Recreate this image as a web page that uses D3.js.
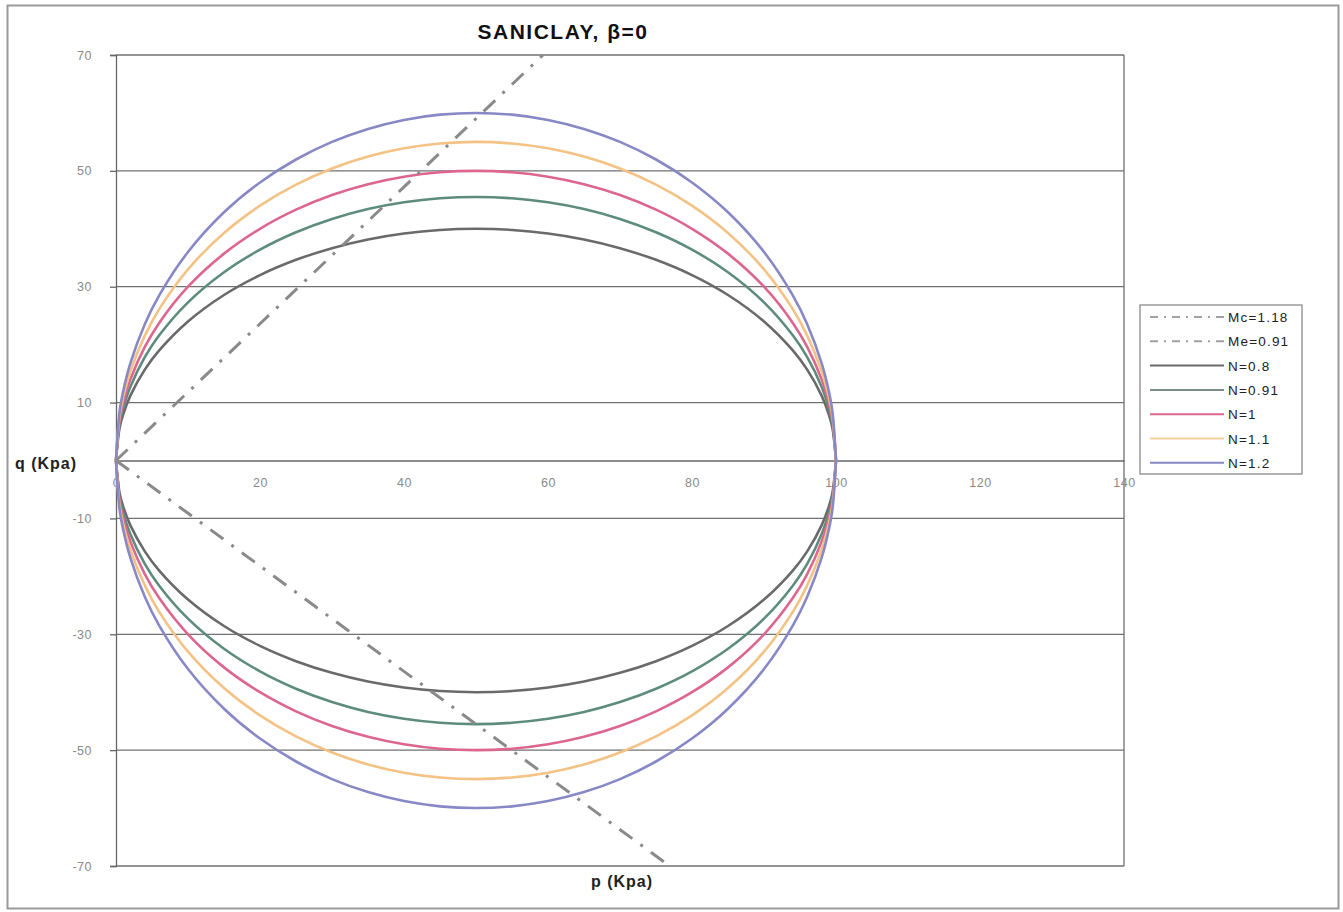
<!DOCTYPE html>
<meta charset="utf-8">
<style>
body { margin: 0; background: #fff; }
text { font-family: Arial, "Liberation Sans", sans-serif; }
.tick-label { font-size: 12.5px; fill: #8a8a8a; letter-spacing: 0.5px; }
.grid { stroke: #707070; stroke-width: 1.3; }
</style>
<svg width="1343" height="912"></svg>
<script src="https://d3js.org/d3.v7.min.js"></script>
<script>
// p values (kPa) shared by all yield curves
var pVals = [0, 0.5, 1, 2, 4, 6, 10, 15, 20, 25, 30, 35, 40, 45, 50,
             55, 60, 65, 70, 75, 80, 85, 90, 94, 96, 98, 99, 99.5, 100];

// q values, upper and lower branch
var qN08U  = [0, 5.64, 7.96, 11.2, 15.68, 19.0, 24.0, 28.57, 32.0, 34.64, 36.66, 38.16, 39.19, 39.8, 40,
              39.8, 39.19, 38.16, 36.66, 34.64, 32.0, 28.57, 24.0, 19.0, 15.68, 11.2, 7.96, 5.64, 0];
var qN08L  = [0, -5.64, -7.96, -11.2, -15.68, -19.0, -24.0, -28.57, -32.0, -34.64, -36.66, -38.16, -39.19, -39.8, -40,
              -39.8, -39.19, -38.16, -36.66, -34.64, -32.0, -28.57, -24.0, -19.0, -15.68, -11.2, -7.96, -5.64, 0];
var qN091U = [0, 6.42, 9.05, 12.74, 17.84, 21.61, 27.3, 32.5, 36.4, 39.4, 41.7, 43.41, 44.58, 45.27, 45.5,
              45.27, 44.58, 43.41, 41.7, 39.4, 36.4, 32.5, 27.3, 21.61, 17.84, 12.74, 9.05, 6.42, 0];
var qN091L = [0, -6.42, -9.05, -12.74, -17.84, -21.61, -27.3, -32.5, -36.4, -39.4, -41.7, -43.41, -44.58, -45.27, -45.5,
              -45.27, -44.58, -43.41, -41.7, -39.4, -36.4, -32.5, -27.3, -21.61, -17.84, -12.74, -9.05, -6.42, 0];
var qN1U   = [0, 7.05, 9.95, 14.0, 19.6, 23.75, 30.0, 35.71, 40.0, 43.3, 45.83, 47.7, 48.99, 49.75, 50,
              49.75, 48.99, 47.7, 45.83, 43.3, 40.0, 35.71, 30.0, 23.75, 19.6, 14.0, 9.95, 7.05, 0];
var qN1L   = [0, -7.05, -9.95, -14.0, -19.6, -23.75, -30.0, -35.71, -40.0, -43.3, -45.83, -47.7, -48.99, -49.75, -50,
              -49.75, -48.99, -47.7, -45.83, -43.3, -40.0, -35.71, -30.0, -23.75, -19.6, -14.0, -9.95, -7.05, 0];
var qN11U  = [0, 7.76, 10.95, 15.4, 21.56, 26.13, 33.0, 39.28, 44.0, 47.63, 50.41, 52.47, 53.89, 54.72, 55,
              54.72, 53.89, 52.47, 50.41, 47.63, 44.0, 39.28, 33.0, 26.13, 21.56, 15.4, 10.95, 7.76, 0];
var qN11L  = [0, -7.76, -10.95, -15.4, -21.56, -26.13, -33.0, -39.28, -44.0, -47.63, -50.41, -52.47, -53.89, -54.72, -55,
              -54.72, -53.89, -52.47, -50.41, -47.63, -44.0, -39.28, -33.0, -26.13, -21.56, -15.4, -10.95, -7.76, 0];
var qN12U  = [0, 8.46, 11.94, 16.8, 23.52, 28.5, 36.0, 42.85, 48.0, 51.96, 55.0, 57.24, 58.79, 59.7, 60,
              59.7, 58.79, 57.24, 55.0, 51.96, 48.0, 42.85, 36.0, 28.5, 23.52, 16.8, 11.94, 8.46, 0];
var qN12L  = [0, -8.46, -11.94, -16.8, -23.52, -28.5, -36.0, -42.85, -48.0, -51.96, -55.0, -57.24, -58.79, -59.7, -60,
              -59.7, -58.79, -57.24, -55.0, -51.96, -48.0, -42.85, -36.0, -28.5, -23.52, -16.8, -11.94, -8.46, 0];

// critical state lines
var mcP = [0, 59.3], mcQ = [0, 70];
var meP = [0, 76.9], meQ = [0, -70];

var xTicks = [0, 20, 40, 60, 80, 100, 120, 140];
var yTicks = [70, 50, 30, 10, -10, -30, -50, -70];

var curves = [
  {name: "N=0.8",  color: "#6a6a6a", up: qN08U,  lo: qN08L},
  {name: "N=0.91", color: "#5e8c7c", up: qN091U, lo: qN091L},
  {name: "N=1",    color: "#dc6690", up: qN1U,   lo: qN1L},
  {name: "N=1.1",  color: "#f3c284", up: qN11U,  lo: qN11L},
  {name: "N=1.2",  color: "#8888c6", up: qN12U,  lo: qN12L}
];

var svg = d3.select("svg");

var x = d3.scaleLinear().domain([0, 140]).range([116, 1124]);
var y = d3.scaleLinear().domain([-70, 70]).range([866, 55]);

// outer frame
svg.append("rect")
    .attr("x", 7.5).attr("y", 5.5)
    .attr("width", 1331).attr("height", 903)
    .attr("fill", "#fff")
    .attr("stroke", "#9a9a9a")
    .attr("stroke-width", 2);

// grid lines
svg.append("g").selectAll("line")
  .data(yTicks)
  .enter().append("line")
    .attr("class", "grid")
    .attr("x1", x(0)).attr("x2", x(140))
    .attr("y1", function(d) { return y(d); })
    .attr("y2", function(d) { return y(d); });

// plot border (right side)
svg.append("line")
    .attr("class", "grid")
    .attr("x1", x(140)).attr("x2", x(140))
    .attr("y1", y(70)).attr("y2", y(-70));

// y axis (plain hyphen minus, like the original)
var yAxis = svg.append("g")
    .attr("transform", "translate(" + x(0) + ",0)")
    .call(d3.axisLeft(y).tickValues(yTicks).tickSize(6).tickPadding(18)
      .tickFormat(function(d) { return String(d); }));
yAxis.selectAll("line, path").attr("stroke", "#666").attr("stroke-width", 1.3);
yAxis.selectAll("text").attr("class", "tick-label").attr("font-size", null).attr("font-family", null);

// x axis at q = 0
var xAxis = svg.append("g")
    .attr("transform", "translate(0," + y(0) + ")")
    .call(d3.axisBottom(x).tickValues(xTicks).tickSize(0).tickPadding(18)
      .tickFormat(function(d) { return String(d); }));
xAxis.selectAll("path").attr("stroke", "#666").attr("stroke-width", 1.3);
xAxis.selectAll("text").attr("class", "tick-label").attr("font-size", null).attr("font-family", null);

var line = d3.line()
    .x(function(d) { return x(d[0]); })
    .y(function(d) { return y(d[1]); })
    .curve(d3.curveCatmullRom.alpha(0.5));

// yield curves
curves.forEach(function(c) {
  [c.up, c.lo].forEach(function(q) {
    svg.append("path")
        .attr("fill", "none")
        .attr("stroke", c.color)
        .attr("stroke-width", 2.6)
        .attr("d", line(pVals.map(function(p, i) { return [p, q[i]]; })));
  });
});

// Mc and Me lines, dash-dot
var dash = "16,10,3,10";
[[mcP, mcQ], [meP, meQ]].forEach(function(s) {
  svg.append("path")
      .attr("fill", "none")
      .attr("stroke", "#8a8a8a")
      .attr("stroke-width", 3)
      .attr("stroke-dasharray", dash)
      .attr("d", d3.line()
        .x(function(d) { return x(d[0]); })
        .y(function(d) { return y(d[1]); })(s[0].map(function(p, i) { return [p, s[1][i]]; })));
});

// title and axis labels
svg.append("text")
    .attr("x", 563).attr("y", 39)
    .attr("text-anchor", "middle")
    .attr("font-weight", "bold")
    .attr("font-size", 21)
    .attr("letter-spacing", 1.5)
    .attr("fill", "#111")
    .text("SANICLAY, β=0");

svg.append("text")
    .attr("x", 46).attr("y", 469)
    .attr("text-anchor", "middle")
    .attr("font-weight", "bold")
    .attr("font-size", 16)
    .attr("letter-spacing", 1)
    .attr("fill", "#222")
    .text("q (Kpa)");

svg.append("text")
    .attr("x", 622).attr("y", 887)
    .attr("text-anchor", "middle")
    .attr("font-weight", "bold")
    .attr("font-size", 16)
    .attr("letter-spacing", 1)
    .attr("fill", "#222")
    .text("p (Kpa)");

// legend
var legendItems = [
  {name: "Mc=1.18", color: "#a0a0a0", dash: "8,6,2,6"},
  {name: "Me=0.91", color: "#a0a0a0", dash: "8,6,2,6"},
  {name: "N=0.8",  color: "#6a6a6a"},
  {name: "N=0.91", color: "#7f8f88"},
  {name: "N=1",    color: "#dc6690"},
  {name: "N=1.1",  color: "#f3d29c"},
  {name: "N=1.2",  color: "#8888c6"}
];

var lg = svg.append("g").attr("transform", "translate(1140,305)");
lg.append("rect")
    .attr("width", 162).attr("height", 169)
    .attr("fill", "#fff")
    .attr("stroke", "#8a8a8a")
    .attr("stroke-width", 1.3);

var rows = lg.selectAll("g.row")
  .data(legendItems)
  .enter().append("g")
    .attr("class", "row")
    .attr("transform", function(d, i) { return "translate(0," + (12 + i * 24.3) + ")"; });
rows.append("line")
    .attr("x1", 10).attr("x2", 84)
    .attr("stroke", function(d) { return d.color; })
    .attr("stroke-width", 2)
    .attr("stroke-dasharray", function(d) { return d.dash || null; });
rows.append("text")
    .attr("x", 88).attr("y", 5)
    .attr("font-size", 13.5)
    .attr("letter-spacing", 1.2)
    .attr("fill", "#222")
    .text(function(d) { return d.name; });
</script>
